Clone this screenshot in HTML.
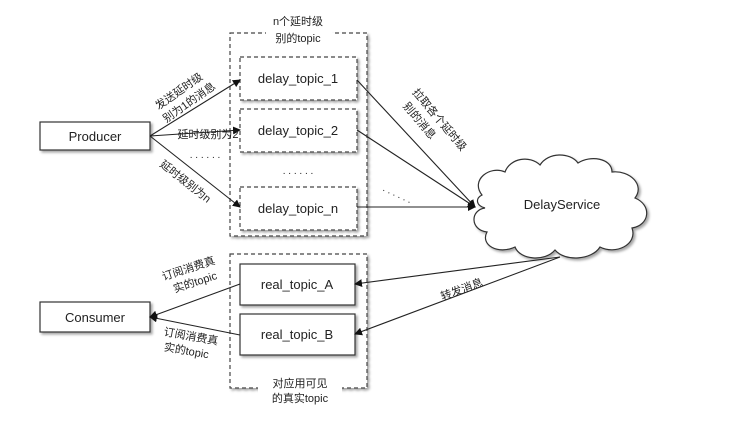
<!DOCTYPE html>
<html><head><meta charset="utf-8"><style>
html,body{margin:0;padding:0;background:#fff;width:740px;height:427px;overflow:hidden}
text{font-family:"Liberation Sans","Noto Sans CJK SC",sans-serif;fill:#222}
</style></head><body>
<svg width="740" height="427" viewBox="0 0 740 427" xmlns="http://www.w3.org/2000/svg">
<defs>
<marker id="a" markerWidth="8" markerHeight="8" refX="7" refY="4" orient="auto" markerUnits="userSpaceOnUse">
<path d="M0,0 L8,4 L0,8 z" fill="#111"/></marker>
<filter id="s" x="-10%" y="-10%" width="130%" height="130%"><feDropShadow dx="2" dy="2" stdDeviation="1.2" flood-color="#000" flood-opacity="0.35"/></filter>
</defs>
<g stroke="#444" stroke-width="1.2" fill="none" stroke-dasharray="4,3" filter="url(#s)">
<rect x="230" y="33" width="137" height="203" fill="#fff"/>
<rect x="230" y="254" width="137" height="134" fill="#fff"/>
</g>
<rect x="258" y="380" width="84" height="24" fill="#fff"/>
<rect x="266" y="28" width="66" height="10" fill="#fff"/>
<g stroke="#444" stroke-width="1.2" fill="#fff" filter="url(#s)">
<rect x="40" y="122" width="110" height="28" stroke="#333"/>
<rect x="40" y="302" width="110" height="30" stroke="#333"/>
<rect x="240" y="57" width="117" height="43" stroke-dasharray="4,3"/>
<rect x="240" y="109" width="117" height="43" stroke-dasharray="4,3"/>
<rect x="240" y="187" width="117" height="43" stroke-dasharray="4,3"/>
<rect x="240" y="264" width="115" height="41" stroke="#333"/>
<rect x="240" y="314" width="115" height="41" stroke="#333"/>
</g>
<g filter="url(#s)">
<path d="M482,195 C470,180 490,165 505,172 C510,158 530,155 540,165 C548,152 570,152 578,163 C590,155 612,158 612,172 C630,170 645,185 635,198 C652,205 650,225 632,228 C638,245 615,255 600,247 C592,260 565,262 555,250 C545,262 520,260 515,247 C498,255 480,245 487,232 C470,230 470,210 485,208 C475,205 476,198 482,195 Z" fill="#fff" stroke="#333" stroke-width="1.2"/>
</g>
<g stroke="#222" stroke-width="1.1" fill="none" marker-end="url(#a)">
<line x1="150" y1="136" x2="240" y2="80"/>
<line x1="150" y1="136" x2="240" y2="130"/>
<line x1="150" y1="136" x2="240" y2="207"/>
<line x1="357" y1="80" x2="475" y2="207"/>
<line x1="357" y1="130" x2="475" y2="207"/>
<line x1="357" y1="207" x2="475" y2="207"/>
<line x1="560" y1="257" x2="355" y2="284"/>
<line x1="560" y1="257" x2="355" y2="334"/>
<line x1="240" y1="284" x2="150" y2="317"/>
<line x1="240" y1="335" x2="150" y2="317"/>
</g>
<g font-size="13" text-anchor="middle">
<text x="95" y="141">Producer</text>
<text x="95" y="322">Consumer</text>
<text x="298" y="83">delay_topic_1</text>
<text x="298" y="135">delay_topic_2</text>
<text x="298" y="213">delay_topic_n</text>
<text x="297" y="289">real_topic_A</text>
<text x="297" y="339">real_topic_B</text>
<text x="562" y="209">DelayService</text>
</g>
<g font-size="11" text-anchor="middle">
<text x="298" y="25">n个延时级</text>
<text x="298" y="42">别的topic</text>
<text x="300" y="387" fill="#444">对应用可见</text>
<text x="300" y="402" fill="#444">的真实topic</text>
<text x="208" y="138">延时级别为2</text>
<text x="205" y="158" font-size="10">. . . . . .</text>
<text x="298" y="174" font-size="10">. . . . . .</text>
<text x="397" y="197" font-size="10" transform="rotate(25 397 195)">. . . . . .</text>
<g transform="rotate(-35 185 100)"><text x="185" y="93">发送延时级</text><text x="187" y="108">别为1的消息</text></g>
<text x="185" y="185" transform="rotate(38 185 182)">延时级别为n</text>
<g transform="rotate(50 430 125)"><text x="432" y="118">拉取各个延时级</text><text x="420" y="134">别的消息</text></g>
<text x="462" y="293" transform="rotate(-20 462 290)">转发消息</text>
<g transform="rotate(-18 190 273)"><text x="190" y="272">订阅消费真</text><text x="192" y="287">实的topic</text></g>
<g transform="rotate(10 190 342)"><text x="190" y="340">订阅消费真</text><text x="188" y="355">实的topic</text></g>
</g>
</svg>
</body></html>
